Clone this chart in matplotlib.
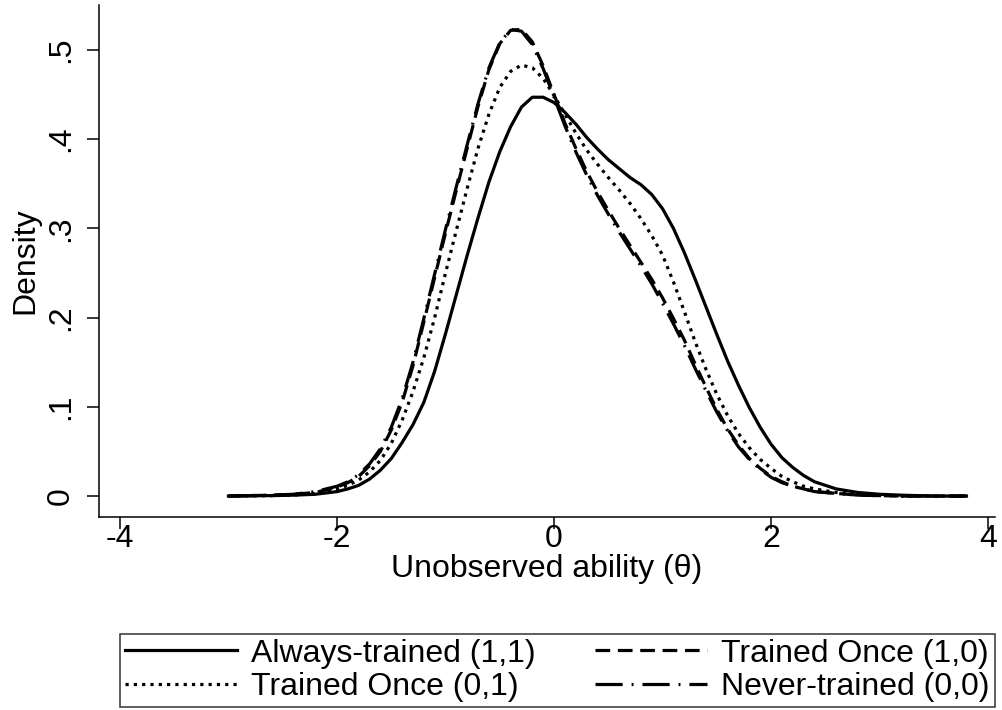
import numpy as np
import matplotlib
matplotlib.use('Agg')
import matplotlib.pyplot as plt

plt.rcParams['font.family'] = ['Liberation Sans', 'DejaVu Sans']

# Kernel density values
theta = [-3.0, -2.6, -2.4, -2.2,
         -2.0, -1.9, -1.8, -1.7, -1.6, -1.5, -1.4, -1.3, -1.2, -1.1,
         -1.0, -0.9, -0.8, -0.7, -0.6, -0.5, -0.4, -0.3, -0.2, -0.1,
         0.0, 0.1, 0.2, 0.3, 0.4, 0.5, 0.6, 0.7, 0.8, 0.9,
         1.0, 1.1, 1.2, 1.3, 1.4, 1.5, 1.6, 1.7, 1.8, 1.9,
         2.0, 2.1, 2.2, 2.3, 2.4,
         2.6, 2.8, 3.0, 3.2, 3.5, 3.8]

always_11 = [0.0, 0.0005, 0.001, 0.002,
             0.005, 0.008, 0.012, 0.019, 0.029, 0.042, 0.06, 0.08, 0.105, 0.14,
             0.182, 0.226, 0.27, 0.312, 0.352, 0.386, 0.414, 0.436, 0.447, 0.447,
             0.441, 0.43, 0.417, 0.402, 0.389, 0.377, 0.367, 0.357, 0.349, 0.338,
             0.322, 0.3, 0.273, 0.243, 0.212, 0.181, 0.151, 0.124, 0.099, 0.077,
             0.058, 0.043, 0.032, 0.023, 0.016,
             0.008, 0.004, 0.002, 0.001, 0.0, 0.0]

once_01 = [0.0, 0.0005, 0.001, 0.003,
           0.008, 0.012, 0.018, 0.027, 0.04, 0.059, 0.085, 0.117, 0.155, 0.2,
           0.25, 0.298, 0.345, 0.39, 0.428, 0.458, 0.476, 0.483, 0.48, 0.468,
           0.449, 0.428, 0.407, 0.388, 0.372, 0.357, 0.343, 0.328, 0.311, 0.292,
           0.27, 0.24, 0.207, 0.173, 0.142, 0.114, 0.09, 0.07, 0.054, 0.041,
           0.031, 0.022, 0.016, 0.011, 0.008,
           0.004, 0.002, 0.001, 0.0, 0.0, 0.0]

once_10 = [0.0, 0.001, 0.002, 0.004,
           0.01, 0.015, 0.022, 0.034, 0.05, 0.074, 0.105, 0.146, 0.195, 0.245,
           0.295, 0.343, 0.39, 0.437, 0.478, 0.507, 0.522, 0.523, 0.509, 0.482,
           0.45, 0.418, 0.39, 0.364, 0.341, 0.32, 0.3, 0.281, 0.262, 0.243,
           0.222, 0.199, 0.175, 0.148, 0.122, 0.097, 0.075, 0.057, 0.042, 0.031,
           0.022, 0.016, 0.011, 0.008, 0.005,
           0.003, 0.001, 0.0005, 0.0, 0.0, 0.0]

never_00 = [0.0, 0.001, 0.002, 0.005,
            0.011, 0.016, 0.024, 0.036, 0.053, 0.077, 0.109, 0.15, 0.199, 0.249,
            0.299, 0.347, 0.394, 0.44, 0.48, 0.508, 0.523, 0.521, 0.506, 0.479,
            0.447, 0.415, 0.386, 0.36, 0.337, 0.316, 0.296, 0.277, 0.258, 0.238,
            0.216, 0.193, 0.169, 0.143, 0.118, 0.094, 0.073, 0.055, 0.041, 0.03,
            0.021, 0.015, 0.011, 0.008, 0.005,
            0.003, 0.001, 0.0005, 0.0, 0.0, 0.0]

labels = ['Always-trained (1,1)', 'Trained Once (0,1)', 'Trained Once (1,0)', 'Never-trained (0,0)']
xticks = [-4, -2, 0, 2, 4]
yticks = [0, 0.1, 0.2, 0.3, 0.4, 0.5]
yticklabels = ['0', '.1', '.2', '.3', '.4', '.5']

fs = 23
fig = plt.figure(figsize=(10.03, 7.10), dpi=100)
ax = fig.add_axes([0.0987, 0.2718, 0.893, 0.7212])

lw = 2.3
ax.plot(theta, always_11, color='black', lw=lw, linestyle='-', label=labels[0])
ax.plot(theta, once_01, color='black', lw=lw, linestyle=(0, (1.0, 1.6)), label=labels[1])
ax.plot(theta, once_10, color='black', lw=lw, linestyle=(0, (4.6, 2.4)), label=labels[2])
ax.plot(theta, never_00, color='black', lw=lw, linestyle=(0, (8.5, 2.8, 0.6, 2.8)), label=labels[3])

ax.set_xlim(-4.193, 4.06)
ax.set_ylim(-0.0235, 0.5504)
ax.set_xticks(xticks)
ax.set_xticklabels([str(t) for t in xticks])
ax.set_yticks(yticks)
ax.set_yticklabels(yticklabels, rotation=90, va='center')
ax.tick_params(axis='both', direction='out', length=8.5, width=1.1, labelsize=fs)
ax.tick_params(axis='y', pad=8)
ax.tick_params(axis='x', pad=-3.5)

for s in ['top', 'right']:
    ax.spines[s].set_visible(False)
for s in ['left', 'bottom']:
    ax.spines[s].set_linewidth(1.1)

ax.set_xlabel('Unobserved ability (\u03b8)', fontsize=fs, labelpad=0)
ax.set_ylabel('Density', fontsize=fs)
ax.yaxis.set_label_coords(-0.066, 0.5)

leg = fig.legend(loc='lower left', bbox_to_anchor=(0.1196, 0.004, 0.872, 0.106),
                 mode='expand', ncol=2, fontsize=fs, frameon=True, fancybox=False,
                 handlelength=3.5, handletextpad=0.45, borderpad=0.15,
                 labelspacing=0.12, borderaxespad=0)
leg.get_frame().set_edgecolor('black')
leg.get_frame().set_linewidth(1.1)

fig.savefig('out.png', dpi=100)
